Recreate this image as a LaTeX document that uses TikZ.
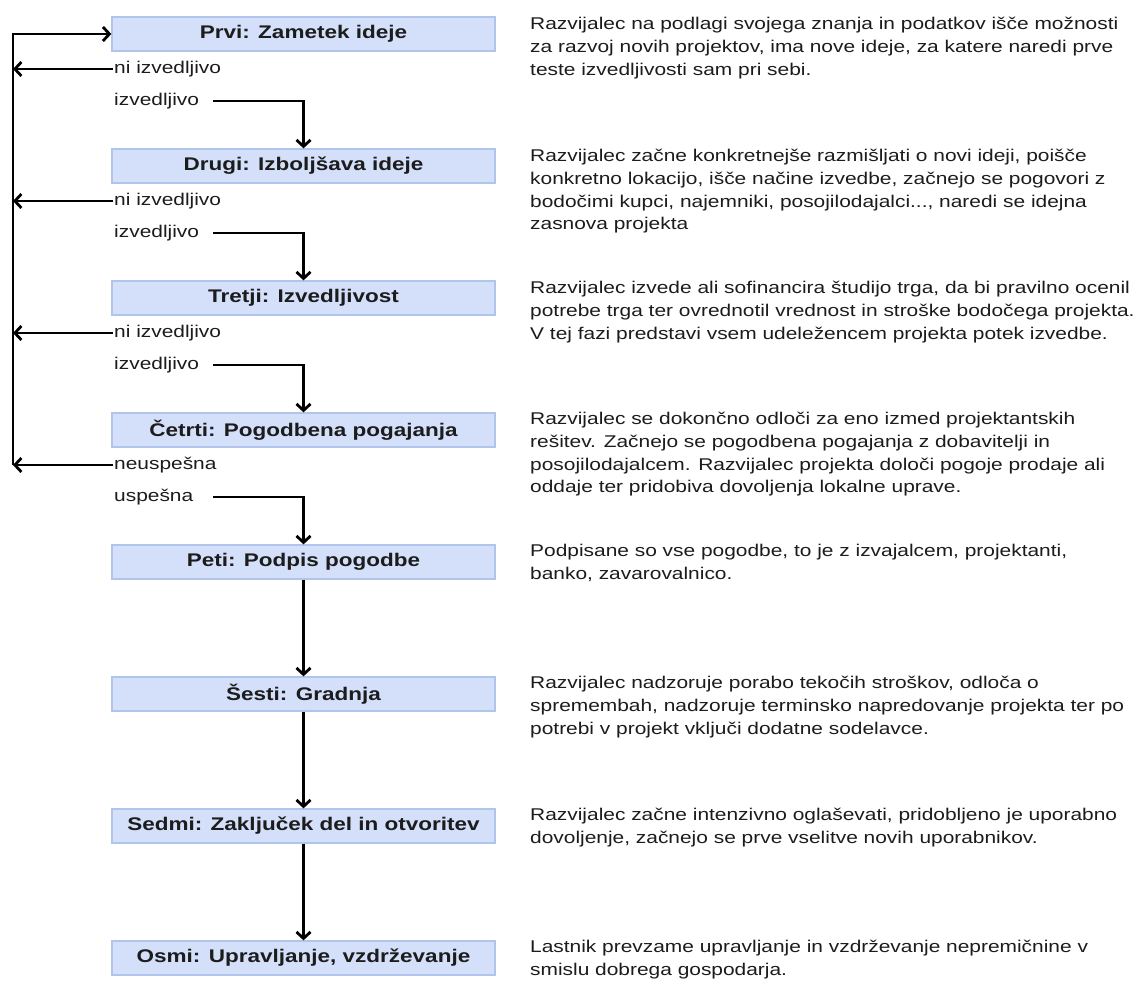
\documentclass[tikz,border=0pt]{standalone}
\usepackage{fontspec}
\setmainfont{Liberation Sans}[FakeStretch=1.23]
\usetikzlibrary{arrows.meta}
\definecolor{boxfill}{RGB}{212,224,250}
\definecolor{boxedge}{RGB}{176,196,236}
\definecolor{ink}{RGB}{28,28,28}
\tikzset{
  stage/.style={rectangle, fill=boxfill, draw=boxedge, line width=1.3pt,
    minimum width=383pt, minimum height=34pt, inner sep=0pt,
    font=\fontsize{18.3}{20}\selectfont\bfseries, text=ink},
  lbl/.style={anchor=west, inner sep=1pt, font=\fontsize{17}{20}\selectfont, text=ink},
  yeslbl/.style={lbl, text width=98pt},
  desc/.style={anchor=north west, inner sep=0pt, align=left,
    font=\fontsize{17}{22.8}\selectfont, text=ink},
  flow/.style={line width=2.8pt, black,
    -{Straight Barb[length=6.5pt,width=14pt]}},
}
\begin{document}
\begin{tikzpicture}[x=1pt,y=-1pt]
\useasboundingbox[fill=white] (0,0) rectangle (1147,983);

% stage boxes
\node[stage] (b1) at (303.5,34)  {Prvi: Zametek ideje};
\node[stage] (b2) at (303.5,166) {Drugi: Izboljšava ideje};
\node[stage] (b3) at (303.5,298) {Tretji: Izvedljivost};
\node[stage] (b4) at (303.5,430) {Četrti: Pogodbena pogajanja};
\node[stage] (b5) at (303.5,562) {Peti: Podpis pogodbe};
\node[stage] (b6) at (303.5,694) {Šesti: Gradnja};
\node[stage] (b7) at (303.5,826) {Sedmi: Zaključek del in otvoritev};
\node[stage] (b8) at (303.5,958) {Osmi: Upravljanje, vzdrževanje};

% outcome labels
\node[lbl] (n1) at (113,69)  {ni izvedljivo};
\node[yeslbl] (y1) at (113,101) {izvedljivo};
\node[lbl] (n2) at (113,201) {ni izvedljivo};
\node[yeslbl] (y2) at (113,233) {izvedljivo};
\node[lbl] (n3) at (113,333) {ni izvedljivo};
\node[yeslbl] (y3) at (113,365) {izvedljivo};
\node[lbl] (n4) at (113,465) {neuspešna};
\node[yeslbl] (y4) at (113,497) {uspešna};

% return rail on the left
\coordinate (rt) at (13,34);
\coordinate (rb) at (13,465);
\draw[flow] (rb) -- (rt) -- (b1.west);
\draw[flow] (n1.west) -- (n1.west -| rt);
\draw[flow] (n2.west) -- (n2.west -| rt);
\draw[flow] (n3.west) -- (n3.west -| rt);
\draw[flow] (n4.west) -- (n4.west -| rt);

% forward steps
\draw[flow] (y1.east) -| (b2.north);
\draw[flow] (y2.east) -| (b3.north);
\draw[flow] (y3.east) -| (b4.north);
\draw[flow] (y4.east) -| (b5.north);
\draw[flow] (b5.south) -- (b6.north);
\draw[flow] (b6.south) -- (b7.north);
\draw[flow] (b7.south) -- (b8.north);

% descriptions
\node[desc] (d1) at (530,17) {Razvijalec na podlagi svojega znanja in podatkov išče možnosti\\
za razvoj novih projektov, ima nove ideje, za katere naredi prve\\
teste izvedljivosti sam pri sebi.};
\node[desc] (d2) at (530,149) {Razvijalec začne konkretnejše razmišljati o novi ideji, poišče\\
konkretno lokacijo, išče načine izvedbe, začnejo se pogovori z\\
bodočimi kupci, najemniki, posojilodajalci..., naredi se idejna\\
zasnova projekta};
\node[desc] (d3) at (530,281) {Razvijalec izvede ali sofinancira študijo trga, da bi pravilno ocenil\\
potrebe trga ter ovrednotil vrednost in stroške bodočega projekta.\\
V tej fazi predstavi vsem udeležencem projekta potek izvedbe.};
\node[desc] (d4) at (530,412) {Razvijalec se dokončno odloči za eno izmed projektantskih\\
rešitev. Začnejo se pogodbena pogajanja z dobavitelji in\\
posojilodajalcem. Razvijalec projekta določi pogoje prodaje ali\\
oddaje ter pridobiva dovoljenja lokalne uprave.};
\node[desc] (d5) at (530,544) {Podpisane so vse pogodbe, to je z izvajalcem, projektanti,\\
banko, zavarovalnico.};
\node[desc] (d6) at (530,676) {Razvijalec nadzoruje porabo tekočih stroškov, odloča o\\
spremembah, nadzoruje terminsko napredovanje projekta ter po\\
potrebi v projekt vključi dodatne sodelavce.};
\node[desc] (d7) at (530,808) {Razvijalec začne intenzivno oglaševati, pridobljeno je uporabno\\
dovoljenje, začnejo se prve vselitve novih uporabnikov.};
\node[desc] (d8) at (530,940) {Lastnik prevzame upravljanje in vzdrževanje nepremičnine v\\
smislu dobrega gospodarja.};
\end{tikzpicture}
\end{document}
